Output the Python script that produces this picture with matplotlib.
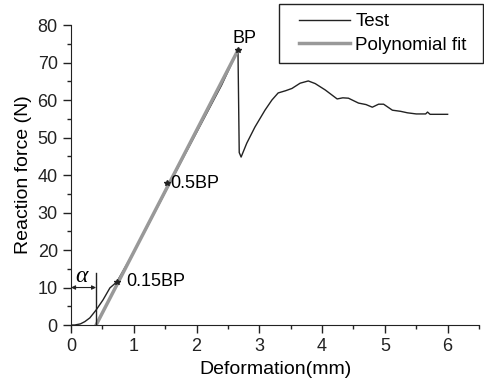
import matplotlib.pyplot as plt
from matplotlib.ticker import MultipleLocator
from matplotlib.patches import Rectangle

plt.rcParams['font.family'] = ['Liberation Sans', 'DejaVu Sans']

# Courbe d'essai
test_x = [0.0, 0.06, 0.15, 0.22, 0.3, 0.4, 0.51, 0.62, 0.73, 1.0, 1.25, 1.55,
          1.8, 2.1, 2.4, 2.66, 2.68, 2.71, 2.8, 2.93, 3.09, 3.2, 3.3, 3.42,
          3.52, 3.65, 3.78, 3.89, 4.05, 4.24, 4.33, 4.42, 4.58, 4.7, 4.8,
          4.9, 4.98, 5.12, 5.25, 5.36, 5.5, 5.65, 5.68, 5.72, 5.85, 6.0]
test_y = [0.0, 0.0, 0.3, 0.9, 1.9, 4.0, 6.7, 9.9, 11.5, 19.5, 27.3, 37.0,
          45.0, 54.5, 64.0, 73.3, 46.0, 44.8, 48.5, 52.8, 57.3, 60.0, 61.9, 62.5,
          63.1, 64.5, 65.1, 64.4, 62.7, 60.3, 60.6, 60.5, 59.2, 58.8, 58.1,
          58.9, 58.9, 57.3, 57.0, 56.6, 56.3, 56.3, 56.8, 56.2, 56.2, 56.2]

# Ajustement polynomial
fit_x = [0.4, 2.66]
fit_y = [0.0, 73.3]

# Points caractéristiques
pts_x = [0.73, 1.53, 2.66]
pts_y = [11.5, 37.8, 73.3]
pts_labels = ['0.15BP', '0.5BP', 'BP']

alpha_x = 0.4

fig = plt.figure(figsize=(4.84, 3.89), dpi=100)
ax = fig.add_axes([0.1467, 0.1645, 0.843, 0.771])

ax.plot(test_x, test_y, color='#222222', lw=1.0, label='Test')
ax.plot(fit_x, fit_y, color='#999999', lw=2.5, label='Polynomial fit')
ax.plot(pts_x, pts_y, ls='none', marker='*', color='#222222', ms=4)

ax.text(pts_x[0] + 0.15, pts_y[0], pts_labels[0], fontsize=13, va='center', ha='left')
ax.text(pts_x[1] + 0.05, pts_y[1], pts_labels[1], fontsize=13, va='center', ha='left')
ax.text(pts_x[2] + 0.1, pts_y[2] + 3.2, pts_labels[2], fontsize=13, va='center', ha='center')

# Décalage alpha
ax.plot([alpha_x, alpha_x], [0, 14], color='#222222', lw=1.0)
ax.annotate('', xy=(0, 10), xytext=(alpha_x, 10),
            arrowprops=dict(arrowstyle='<|-|>', color='#222222', lw=0.8,
                            mutation_scale=6, shrinkA=0, shrinkB=0))
ax.text(0.17, 13, 'α', fontsize=17, ha='center', va='center',
        family=['Liberation Serif', 'DejaVu Serif'], style='italic')

ax.set_xlim(0, 6.5)
ax.set_ylim(0, 80)
ax.xaxis.set_major_locator(MultipleLocator(1))
ax.xaxis.set_minor_locator(MultipleLocator(0.5))
ax.yaxis.set_major_locator(MultipleLocator(10))
ax.yaxis.set_minor_locator(MultipleLocator(5))
ax.tick_params(which='both', direction='out', labelsize=13, colors='#222222')
ax.tick_params(which='major', length=6, width=1)
ax.tick_params(which='minor', length=3, width=1)
ax.spines['top'].set_visible(False)
ax.spines['right'].set_visible(False)
for s in ['left', 'bottom']:
    ax.spines[s].set_color('#222222')
ax.set_xlabel('Deformation(mm)', fontsize=14)
ax.set_ylabel('Reaction force (N)', fontsize=14)

# Légende avec cadre dessiné à la main
fig.legend(loc='upper left', bbox_to_anchor=(299 / 484, 1 - 13 / 389),
           fontsize=13.5, frameon=False, handlelength=2.7,
           borderaxespad=0, borderpad=0, labelspacing=0.35, handletextpad=0.3)
fig.patches.append(Rectangle((279 / 484, 1 - 63 / 389), 204 / 484, 59 / 389,
                             transform=fig.transFigure, fill=False,
                             edgecolor='#222222', lw=1.0))

fig.savefig('out.png', dpi=100)
